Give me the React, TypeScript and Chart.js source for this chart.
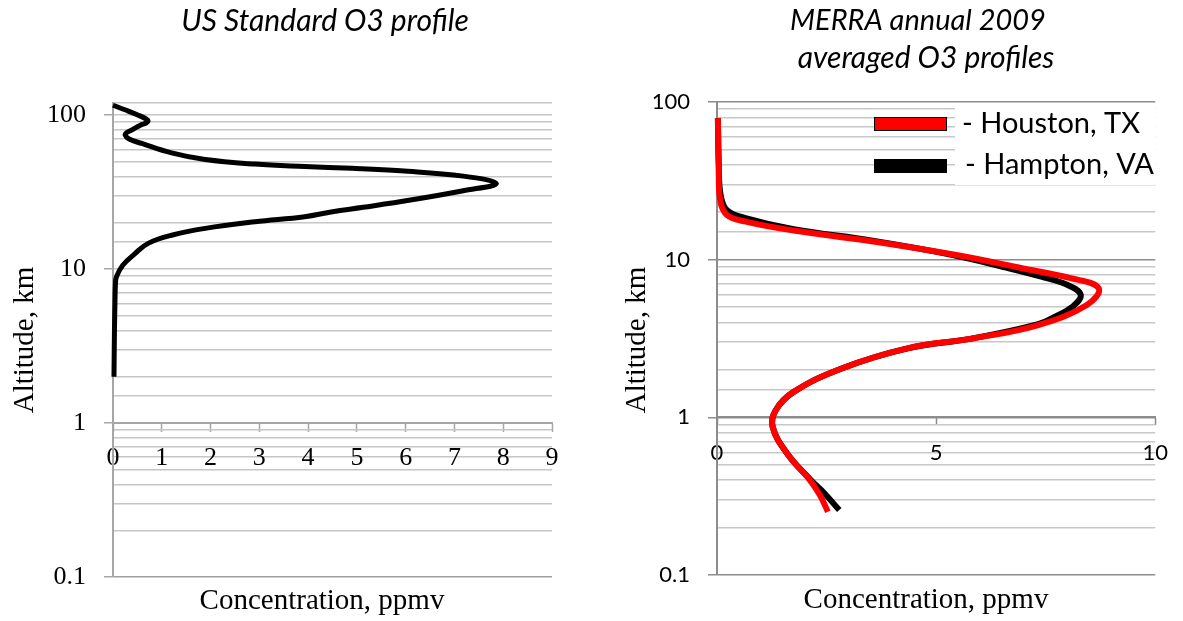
import React, { useEffect, useRef } from "react";
import { Chart, registerables } from "chart.js";

Chart.register(...registerables);

// ---------- Data ----------
// US Standard O3 profile (altitude km, concentration ppmv), bottom to top
const usAltitude = [2, 4, 6, 8, 8.9, 10.6, 12.6, 14.7, 16.6, 18.4, 20.3, 21.9, 23.6, 25.2, 28.1, 32.3, 36.0, 40.2, 43.5, 45.2, 46.4, 48.1, 51.5, 56.9, 65.5, 70, 74.1, 77, 80, 86, 89, 91.8, 94.5, 100, 108, 116];
const usConcentration = [0.02, 0.03, 0.04, 0.05, 0.07, 0.2, 0.45, 0.72, 1.2, 1.89, 2.91, 3.93, 4.5, 5.13, 6.1, 7.18, 7.86, 7.18, 5.9, 4.9, 3.93, 2.91, 1.89, 1.2, 0.59, 0.33, 0.25, 0.28, 0.38, 0.56, 0.68, 0.72, 0.68, 0.52, 0.26, 0.0];

// MERRA annual 2009 averaged O3 profiles
const houstonAltitude = [0.252, 0.32, 0.4, 0.59, 0.87, 1.11, 1.45, 2.05, 2.74, 3.17, 3.85, 5.16, 6.59, 7.63, 8.83, 10.7, 13.0, 15.3, 17.5, 19.3, 24, 40, 79];
const houstonConcentration = [2.53, 2.35, 2.12, 1.6, 1.27, 1.34, 1.75, 2.86, 4.35, 5.84, 7.33, 8.44, 8.71, 8.07, 6.96, 5.46, 3.61, 1.75, 0.63, 0.22, 0.07, 0.04, 0.02];

const hamptonAltitude = [0.258, 0.33, 0.4, 0.59, 0.87, 1.11, 1.45, 2.05, 2.74, 3.17, 3.9, 4.4, 5.0, 5.98, 6.9, 7.8, 8.9, 10.8, 13.2, 15.6, 18.4, 20.7, 26, 40, 79];
const hamptonConcentration = [2.79, 2.45, 2.14, 1.6, 1.27, 1.34, 1.75, 2.86, 4.35, 5.84, 7.33, 7.75, 8.1, 8.3, 8.0, 7.4, 6.6, 5.3, 3.55, 1.75, 0.63, 0.22, 0.08, 0.04, 0.02];

const seriesNames = ["- Houston, TX", "- Hampton, VA"];
const leftTitle = "US Standard O3 profile";
const rightTitle = ["MERRA annual 2009", "averaged O3 profiles"];
const yAxisTitle = "Altitude, km";
const xAxisTitle = "Concentration, ppmv";

// ---------- Helpers ----------
const isMajor = (v: number) => {
  if (!(v > 0)) return false;
  const l = Math.log10(v);
  return Math.abs(l - Math.round(l)) < 1e-6;
};
const toPoints = (alt: number[], conc: number[]) => alt.map((a, i) => ({ x: conc[i], y: a }));

type TextItem = { text: string; x: number; y: number; font: string; align?: CanvasTextAlign; rotate?: number };
type RectItem = { x: number; y: number; w: number; h: number; fill: string; stroke?: string };

const makeOverlay = (rects: RectItem[], texts: TextItem[]) => ({
  id: "overlay",
  afterDraw(chart: any) {
    const ctx: CanvasRenderingContext2D = chart.ctx;
    ctx.save();
    rects.forEach((r) => {
      ctx.fillStyle = r.fill;
      ctx.fillRect(r.x, r.y, r.w, r.h);
      if (r.stroke) {
        ctx.strokeStyle = r.stroke;
        ctx.lineWidth = 1;
        ctx.strokeRect(r.x + 0.5, r.y + 0.5, r.w - 1, r.h - 1);
      }
    });
    texts.forEach((t) => {
      ctx.save();
      ctx.font = t.font;
      ctx.fillStyle = "#000";
      ctx.textAlign = t.align || "center";
      ctx.textBaseline = "alphabetic";
      ctx.translate(t.x, t.y);
      if (t.rotate) ctx.rotate(t.rotate);
      ctx.fillText(t.text, 0, 0);
      ctx.restore();
    });
    ctx.restore();
  },
});

const SERIF = "'Liberation Serif', 'Times New Roman', serif";
const SANS = "Lato, 'Open Sans', sans-serif";

function LeftChart() {
  const ref = useRef<HTMLCanvasElement>(null);
  useEffect(() => {
    if (!ref.current) return;
    const overlay = makeOverlay([], [
      { text: leftTitle, x: 325, y: 31, font: `italic 30px ${SANS}` },
      { text: yAxisTitle, x: 33, y: 340, font: `29px ${SERIF}`, rotate: -Math.PI / 2 },
      { text: xAxisTitle, x: 322, y: 609, font: `29px ${SERIF}` },
    ]);
    const chart = new Chart(ref.current, {
      type: "scatter",
      data: {
        datasets: [
          {
            data: toPoints(usAltitude, usConcentration),
            showLine: true,
            borderColor: "#000",
            backgroundColor: "#000",
            borderWidth: 5,
            pointRadius: 0,
            tension: 0.4,
            clip: false,
          } as any,
        ],
      },
      options: {
        responsive: false,
        animation: false,
        events: [],
        layout: { padding: { left: 0, top: 103, right: 43, bottom: 44 } },
        plugins: { legend: { display: false }, tooltip: { enabled: false } },
        scales: {
          x: {
            type: "linear",
            min: 0,
            max: 9,
            position: { y: 1 } as any,
            ticks: { stepSize: 1, autoSkip: false, maxRotation: 0, padding: 12, color: "#000", font: { family: SERIF, size: 26 } },
            grid: { drawOnChartArea: false, drawTicks: true, tickLength: 8, color: "#a6a6a6", tickWidth: 1.5 },
            border: { display: true, color: "#a6a6a6", width: 2 },
            afterFit: (s: any) => { s.height = 0; },
          },
          y: {
            type: "logarithmic",
            position: "left",
            min: 0.1,
            max: 120,
            ticks: {
              autoSkip: false,
              padding: 18,
              color: "#000",
              font: { family: SERIF, size: 26 },
              callback: (v: any) => (isMajor(Number(v)) ? String(Number(v)) : ""),
            },
            grid: {
              color: (c: any) => (c.tick && Math.abs(c.tick.value - 0.1) < 1e-9 ? "#a0a0a0" : "#c6c6c6"),
              lineWidth: 1.5,
              tickLength: 9,
              tickWidth: 1.5,
              tickColor: (c: any) => (c.tick && isMajor(c.tick.value) ? "#a6a6a6" : "rgba(0,0,0,0)"),
            },
            border: { display: true, color: "#a6a6a6", width: 2 },
            afterFit: (s: any) => { s.width = 113; },
          },
        },
      } as any,
      plugins: [overlay],
    });
    return () => chart.destroy();
  }, []);
  return <canvas ref={ref} width={595} height={621} style={{ position: "absolute", left: 0, top: 0, width: 595, height: 621 }} />;
}

function RightChart() {
  const ref = useRef<HTMLCanvasElement>(null);
  useEffect(() => {
    if (!ref.current) return;
    const ox = 595;
    const overlay = makeOverlay(
      [
        { x: 955 - ox, y: 105, w: 200, h: 80, fill: "#fff" },
        { x: 874 - ox, y: 117, w: 73, h: 14, fill: "#ff0000", stroke: "#000" },
        { x: 874 - ox, y: 159, w: 73, h: 14, fill: "#000" },
      ],
      [
        { text: rightTitle[0], x: 918 - ox, y: 30, font: `italic 29px ${SANS}` },
        { text: rightTitle[1], x: 926 - ox, y: 68, font: `italic 30px ${SANS}` },
        { text: seriesNames[0], x: 962 - ox, y: 133, font: `29px ${SANS}`, align: "left" },
        { text: seriesNames[1], x: 965 - ox, y: 174, font: `29px ${SANS}`, align: "left" },
        { text: yAxisTitle, x: 645 - ox, y: 340, font: `29px ${SERIF}`, rotate: -Math.PI / 2 },
        { text: xAxisTitle, x: 926 - ox, y: 608, font: `29px ${SERIF}` },
      ]
    );
    const chart = new Chart(ref.current, {
      type: "scatter",
      data: {
        datasets: [
          {
            label: seriesNames[0],
            data: toPoints(houstonAltitude, houstonConcentration),
            showLine: true,
            borderColor: "#ff0000",
            backgroundColor: "#ff0000",
            borderWidth: 6,
            pointRadius: 0,
            tension: 0.4,
            clip: false,
          } as any,
          {
            label: seriesNames[1],
            data: toPoints(hamptonAltitude, hamptonConcentration),
            showLine: true,
            borderColor: "#000",
            backgroundColor: "#000",
            borderWidth: 6,
            pointRadius: 0,
            tension: 0.4,
            clip: false,
          } as any,
        ],
      },
      options: {
        responsive: false,
        animation: false,
        events: [],
        layout: { padding: { left: 0, top: 102, right: 18, bottom: 46 } },
        plugins: { legend: { display: false }, tooltip: { enabled: false } },
        scales: {
          x: {
            type: "linear",
            min: 0,
            max: 10,
            position: { y: 1 } as any,
            ticks: { stepSize: 5, autoSkip: false, maxRotation: 0, padding: 15, color: "#000", font: { family: SANS, size: 22 } },
            grid: { drawOnChartArea: false, drawTicks: true, tickLength: 7, color: "#8c8c8c", tickWidth: 1.5 },
            border: { display: true, color: "#8c8c8c", width: 2 },
            afterFit: (s: any) => { s.height = 0; },
          },
          y: {
            type: "logarithmic",
            position: "left",
            min: 0.1,
            max: 100,
            ticks: {
              autoSkip: false,
              padding: 18,
              color: "#000",
              font: { family: SANS, size: 22 },
              callback: (v: any) => (isMajor(Number(v)) ? String(Number(v)) : ""),
            },
            grid: {
              color: (c: any) => (c.tick && isMajor(c.tick.value) ? "#8c8c8c" : "#c8c8c8"),
              lineWidth: 1.5,
              tickLength: 9,
              tickWidth: 1.5,
              tickColor: (c: any) => (c.tick && isMajor(c.tick.value) ? "#8c8c8c" : "rgba(0,0,0,0)"),
            },
            border: { display: true, color: "#8c8c8c", width: 2 },
            afterFit: (s: any) => { s.width = 122; },
          },
        },
      } as any,
      plugins: [overlay],
    });
    return () => chart.destroy();
  }, []);
  return <canvas ref={ref} width={588} height={621} style={{ position: "absolute", left: 595, top: 0, width: 588, height: 621 }} />;
}

export default function App() {
  return (
    <div style={{ position: "absolute", left: 0, top: 0, width: 1183, height: 621, background: "#fff", overflow: "hidden" }}>
      <LeftChart />
      <RightChart />
    </div>
  );
}
